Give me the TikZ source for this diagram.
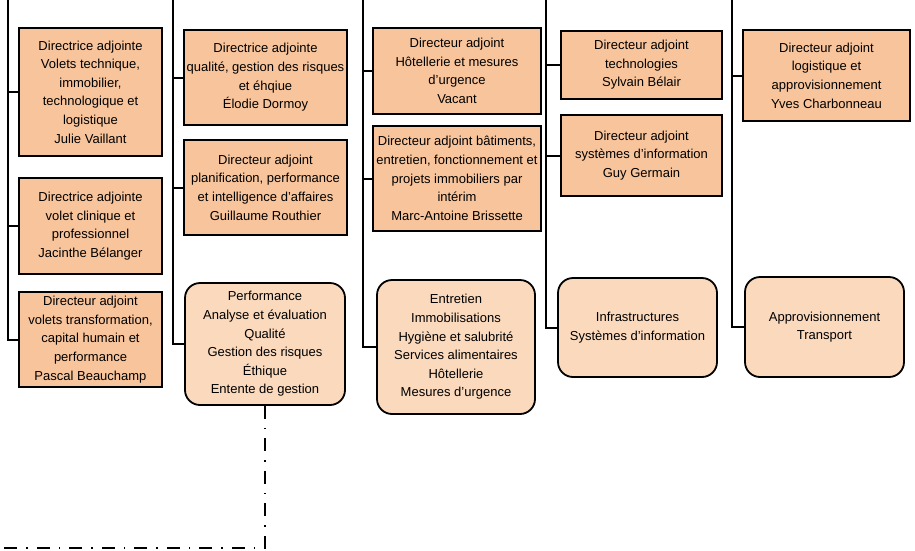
\documentclass[tikz,border=0pt]{standalone}
\usepackage{fontspec}
\setmainfont{Liberation Sans}
\usetikzlibrary{positioning}

\definecolor{peach}{RGB}{248,196,155}
\definecolor{peachlight}{RGB}{250,217,189}
\newcommand{\orgfont}{\fontsize{13}{18.6}\selectfont}

\begin{document}
\begin{tikzpicture}[x=1pt,y=-1pt,node distance=0pt,
    poste/.style={draw,line width=1.8pt,fill=peach,align=center,inner sep=0pt,font=\orgfont},
    service/.style={poste,fill=peachlight,rounded corners=15pt},
    lien/.style={line width=2pt},
    pointille/.style={line width=2.4pt,dash pattern=on 13pt off 9pt on 1.5pt off 9pt}]
  \useasboundingbox (0,0) rectangle (915,550);

  % colonnes
  \coordinate (t_1) at (8,0);
  \coordinate (t_2) at (173,0);
  \coordinate (t_3) at (363,0);
  \coordinate (t_4) at (546,0);
  \coordinate (t_5) at (732,0);

  \node[poste,minimum width=143pt,minimum height=128pt] (b_11) at (90.5,92)
    {Directrice adjointe\\Volets technique,\\immobilier,\\technologique et\\logistique\\Julie Vaillant};
  \node[poste,minimum width=143pt,minimum height=96pt] (b_12) at (90.5,226)
    {Directrice adjointe\\volet clinique et\\professionnel\\Jacinthe Bélanger};
  \node[poste,minimum width=143pt,minimum height=95pt] (b_13) at (90.5,339.5)
    {Directeur adjoint\\volets transformation,\\capital humain et\\performance\\Pascal Beauchamp};

  \node[poste,minimum width=163pt,minimum height=95pt] (b_21) at (265.5,77.5)
    {Directrice adjointe\\qualité, gestion des risques\\et éhqiue\\Élodie Dormoy};
  \node[poste,minimum width=163pt,minimum height=95pt] (b_22) at (265.5,187.5)
    {Directeur adjoint\\planification, performance\\et intelligence d’affaires\\Guillaume Routhier};
  \node[service,minimum width=160pt,minimum height=122pt] (s_2) at (265,344)
    {Performance\\Analyse et évaluation\\Qualité\\Gestion des risques\\Éthique\\Entente de gestion};

  \node[poste,minimum width=168pt,minimum height=86pt] (b_31) at (457,71)
    {Directeur adjoint\\Hôtellerie et mesures\\d’urgence\\Vacant};
  \node[poste,minimum width=168pt,minimum height=105pt] (b_32) at (457,178.5)
    {Directeur adjoint bâtiments,\\entretien, fonctionnement et\\projets immobiliers par\\intérim\\Marc-Antoine Brissette};
  \node[service,minimum width=158pt,minimum height=134pt] (s_3) at (456,347)
    {Entretien\\Immobilisations\\Hygiène et salubrité\\Services alimentaires\\Hôtellerie\\Mesures d’urgence};

  \node[poste,minimum width=161pt,minimum height=68pt] (b_41) at (641.5,65)
    {Directeur adjoint\\technologies\\Sylvain Bélair};
  \node[poste,minimum width=161pt,minimum height=81pt] (b_42) at (641.5,155.5)
    {Directeur adjoint\\systèmes d’information\\Guy Germain};
  \node[service,minimum width=159pt,minimum height=99pt] (s_4) at (637.5,327.5)
    {Infrastructures\\Systèmes d’information};

  \node[poste,minimum width=167pt,minimum height=91pt] (b_51) at (826.5,75.5)
    {Directeur adjoint\\logistique et\\approvisionnement\\Yves Charbonneau};
  \node[service,minimum width=159pt,minimum height=100pt] (s_5) at (824.5,327)
    {Approvisionnement\\Transport};

  \draw[lien] (t_1) |- (b_13);
  \foreach \n in {b_11,b_12} \draw[lien] (t_1 |- \n) -- (\n);
  \draw[lien] (t_2) |- (s_2);
  \foreach \n in {b_21,b_22} \draw[lien] (t_2 |- \n) -- (\n);
  \draw[lien] (t_3) |- (s_3);
  \foreach \n in {b_31,b_32} \draw[lien] (t_3 |- \n) -- (\n);
  \draw[lien] (t_4) |- (s_4);
  \foreach \n in {b_41,b_42} \draw[lien] (t_4 |- \n) -- (\n);
  \draw[lien] (t_5) |- (s_5);
  \draw[lien] (t_5 |- b_51) -- (b_51);

  \coordinate (fin) at (0,548);
  \draw[pointille] (s_2.south) |- (fin);
\end{tikzpicture}
\end{document}
